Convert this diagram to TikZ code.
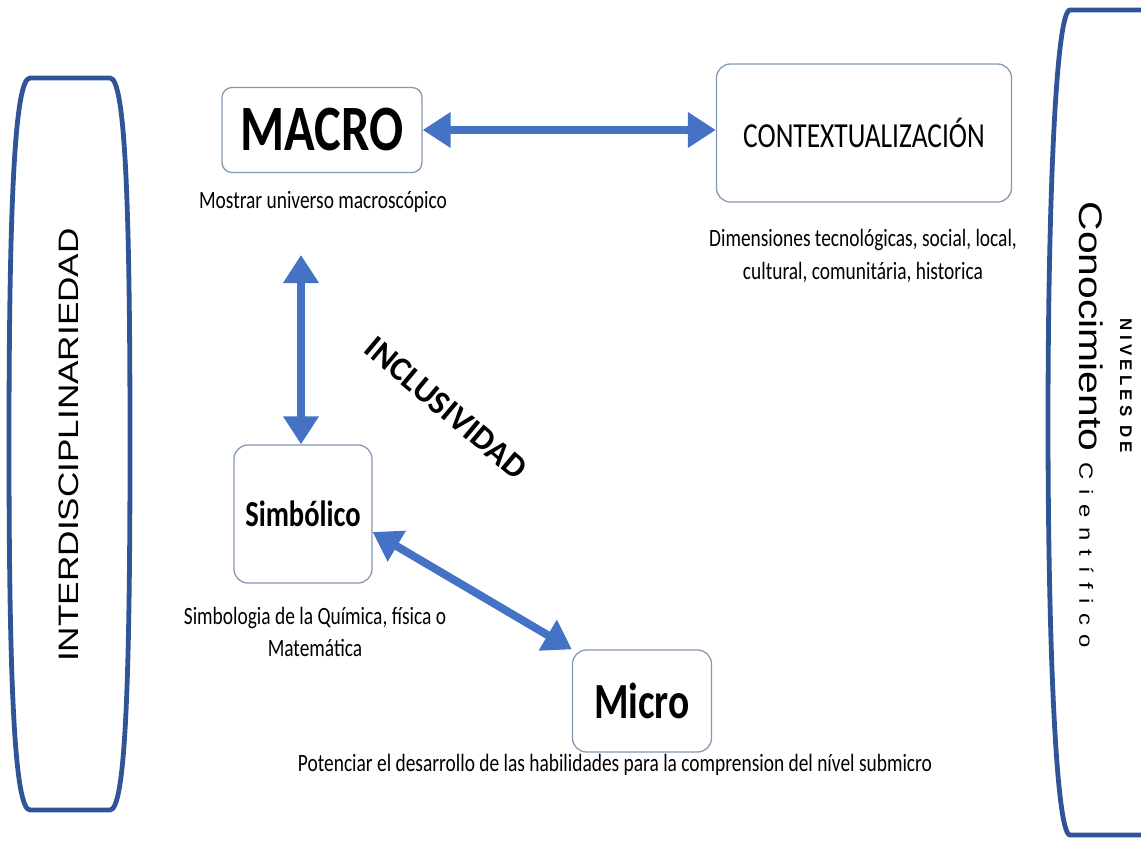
\documentclass[tikz,border=0pt]{standalone}
\usepackage{fontspec}
\setmainfont{Carlito}
\newfontfamily\narrowfont[FakeStretch=0.78]{Carlito}
\newfontfamily\gothicfont{Liberation Sans}
\newfontfamily\spacedfont[LetterSpace=40]{Liberation Sans}
\newfontfamily\nivfont[LetterSpace=25]{Liberation Sans Bold}
\usetikzlibrary{arrows.meta}
\definecolor{framebl}{HTML}{2F5597}
\definecolor{arrowbl}{HTML}{4472C4}
\definecolor{boxline}{HTML}{8497B0}

\begin{document}
\begin{tikzpicture}[x=0.025cm, y=-0.025cm]
	\tikzstyle{lvl}=[draw=boxline, line width=0.9pt, rounded corners=0.35cm, fill=white, inner sep=0pt, font=\narrowfont\bfseries]
	\tikzstyle{note}=[font=\narrowfont\fontsize{17.7}{23}\selectfont, align=center, inner sep=0pt]
	\tikzstyle{frame}=[draw=framebl, line width=0.12cm]
	\tikzstyle{link}=[draw=arrowbl, line width=0.2cm, {Triangle[length=0.7cm,width=0.85cm]}-{Triangle[length=0.7cm,width=0.85cm]}]
	\useasboundingbox (0,0) rectangle (1141,840);
		
		%========================================================================
		% Frames
		\draw[frame] (30,78) -- (110,78) .. controls (125,78) and (130,200) .. (130,444)
			.. controls (130,690) and (125,810) .. (110,810) -- (30,810)
			.. controls (15,810) and (9,690) .. (9,444) .. controls (9,200) and (15,78) .. (30,78) -- cycle;
		\draw[frame] (1160,10) -- (1070,10) .. controls (1056,10) and (1048,200) .. (1048,422)
			.. controls (1048,640) and (1056,835) .. (1070,835) -- (1160,835);
		
		\node[rotate=90, inner sep=0pt] (inter) at (69,445)
			{\scalebox{1}[0.8]{\gothicfont\fontsize{25}{30}\selectfont INTERDISCIPLINARIEDAD}};
		\node[rotate=-90, inner sep=0pt, font=\nivfont\fontsize{12}{14}\selectfont] (nivA) at (1126,386) {NIVELES DE};
		\node[rotate=-90, inner sep=0pt] (nivB) at (1091,425)
			{\scalebox{1}[0.8]{\gothicfont\fontsize{29}{30}\selectfont Conocimiento \spacedfont\fontsize{17}{18}\selectfont Científico}};
		
		%========================================================================
		% Levels
		\node[lvl, minimum width=5cm, minimum height=2.125cm, rounded corners=0.25cm, font=\narrowfont\bfseries\fontsize{46}{50}\selectfont] (macro) at (322,130) {MACRO};
		\node[lvl, minimum width=7.375cm, minimum height=3.45cm, font=\narrowfont\fontsize{25}{30}\selectfont] (ctx) at (864,133) {CONTEXTUALIZACIÓN};
		\node[lvl, minimum width=3.45cm, minimum height=3.45cm, font=\narrowfont\bfseries\fontsize{26}{30}\selectfont] (simb) at (303,514) {Simbólico};
		\node[lvl, minimum width=3.475cm, minimum height=2.55cm, font=\narrowfont\bfseries\fontsize{36}{40}\selectfont] (micro) at (642,701) {Micro};
		
		\node[note] (macrocap) at (323,202) {Mostrar universo macroscópico};
		\node[note] (ctxcap) at (863,256) {Dimensiones tecnológicas, social, local,\\cultural, comunitária, historica};
		\node[note] (simbcap) at (315,632) {Simbologia de la Química, física o\\Matemática};
		\node[note] (microcap) at (615,765) {Potenciar el desarrollo de las habilidades para la comprension del nível submicro};
		
		\node[rotate=-40, inner sep=0pt, font=\bfseries\fontsize{24}{26}\selectfont] (incl) at (446,408) {INCLUSIVIDAD};
		
		%========================================================================
		% Arrows
		\coordinate (vtop) at (301,255);
		\draw[link] (macro.east) -- (macro.east -| ctx.west);
		\draw[link] (vtop) -- (vtop |- simb.north);
		\draw[link] ([yshift=-0.45cm]simb.east) -- (micro.north west);
	\end{tikzpicture}
\end{document}
